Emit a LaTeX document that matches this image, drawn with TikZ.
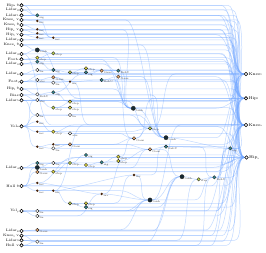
\documentclass[tikz,border=0pt]{standalone}
\usepackage{fontspec}
\newfontfamily\gk{DejaVu Serif}
\usetikzlibrary{calc}
\newcommand\lsub[1]{\raisebox{-0.6pt}{\fontsize{2.5}{3}\selectfont #1}}
\newcommand\thta{{\gk\fontsize{3}{4}\selectfont θ}}
\definecolor{tealc}{RGB}{50,140,150}
\definecolor{yelc}{RGB}{228,222,60}
\definecolor{ygc}{RGB}{190,215,80}
\definecolor{orc}{RGB}{240,170,110}
\definecolor{darkc}{RGB}{22,42,52}
\definecolor{dotc}{RGB}{70,35,10}
\definecolor{edgec}{RGB}{110,165,255}
\pgfdeclarelayer{bg}
\pgfsetlayers{bg,main}
\tikzset{
  io/.style={circle,draw=black,fill=white,line width=0.6pt,inner sep=0pt,minimum size=3.4pt},
  il/.style={font=\fontsize{3.5}{4}\selectfont,inner sep=0.5pt,text=black},
  ol/.style={font=\fontsize{4}{5}\selectfont,inner sep=0.4pt,text=black},
  hl/.style={font=\fontsize{2.6}{3}\selectfont,inner sep=0.3pt,text=black!75,label distance=0pt},
  hbase/.style={circle,draw=black!85,line width=0.4pt,inner sep=0pt,minimum size=3.4pt},
  hT/.style={hbase,fill=tealc},
  hY/.style={hbase,fill=yelc},
  hG/.style={hbase,fill=ygc},
  hO/.style={hbase,fill=orc},
  hW/.style={hbase,fill=white},
  hK/.style={hbase,fill=darkc,minimum size=4.2pt},
  hD/.style={circle,fill=dotc,draw=none,inner sep=0pt,minimum size=2.6pt},
  edge/.style={draw=edgec,line width=0.5pt,opacity=0.42,max distance=14pt},
}
\newcommand\hn[5]{\node[#1,label={[hl]-15:#5}] (#2) at (#3,#4) {};}
\newcommand\inp[4]{\node[io,label={[il]left:#4}] (#1) at (#2,#3) {};}
\begin{document}
\begin{tikzpicture}[x=1pt,y=-1pt]
\useasboundingbox (0,0) rectangle (266,253);
% inputs
\inp{i1}{21.5}{5.3}{Hip\lsub{r} \thta}
\inp{i2}{21.5}{10}{Lidar\lsub{2}}
\inp{i3}{21.5}{15.3}{Lidar\lsub{1}}
\inp{i4}{21.5}{20}{Knee\lsub{r} v}
\inp{i5}{21.5}{25}{Knee\lsub{l} \thta}
\inp{i6}{21.5}{30}{Hip\lsub{r} v}
\inp{i7}{21.5}{34.7}{Hip\lsub{l} v}
\inp{i8}{21.5}{40}{Lidar\lsub{7}}
\inp{i9}{21.5}{45}{Knee\lsub{r} \thta}
\inp{i10}{21.5}{54}{Lidar\lsub{3}}
\inp{i11}{21.5}{59.3}{Foot\lsub{r}}
\inp{i12}{21.5}{64}{Lidar\lsub{0}}
\inp{i13}{21.5}{74}{Lidar\lsub{6}}
\inp{i14}{21.5}{81.7}{Foot\lsub{l}}
\inp{i15}{21.5}{89}{Hip\lsub{l} \thta}
\inp{i16}{21.5}{95}{Bias}
\inp{i17}{21.5}{100.3}{Lidar\lsub{5}}
\inp{i18}{21.5}{126.3}{Vel\lsub{x}}
\inp{i19}{21.5}{168}{Lidar\lsub{4}}
\inp{i20}{21.5}{186}{Hull \thta}
\inp{i21}{21.5}{211}{Vel\lsub{y}}
\inp{i22}{21.5}{231}{Lidar\lsub{8}}
\inp{i23}{21.5}{235.7}{Knee\lsub{l} v}
\inp{i24}{21.5}{240.3}{Lidar\lsub{9}}
\inp{i25}{21.5}{245.3}{Hull v}
% outputs
\node[io,label={[ol]right:Knee\lsub{l}}] (o1) at (246,74) {};
\node[io,label={[ol]right:Hip\lsub{l}}] (o2) at (246,98.3) {};
\node[io,label={[ol]right:Knee\lsub{r}}] (o3) at (246,125) {};
\node[io,label={[ol]right:Hip\lsub{r}}] (o4) at (246.5,157.5) {};
% hidden
\hn{hT}{h1}{37.3}{15.3}{sig}
\hn{hD}{h2}{37.3}{21}{inv}
\hn{hD}{h3}{37.3}{29.3}{inv}
\hn{hD}{h4}{37.3}{33.3}{inv}
\hn{hD}{h5}{37.3}{37.3}{inv}
\hn{hD}{h6}{53.3}{37.7}{inv}
\hn{hK}{h7}{37.3}{50}{tanh}
\hn{hG}{h8}{53.3}{53.3}{step}
\hn{hY}{h9}{37.3}{57.7}{step}
\hn{hT}{h10}{37.3}{61.7}{sig}
\hn{hW}{h11}{37.3}{70}{lin}
\hn{hT}{h12}{53.3}{70}{sig}
\hn{hG}{h13}{70}{72.3}{step}
\hn{hY}{h14}{86}{68.3}{step}
\hn{hT}{h15}{86}{72.3}{sig}
\hn{hW}{h16}{37.3}{80}{abs}
\hn{hO}{h17}{53.3}{77.3}{Gaus}
\hn{hW}{h18}{53.3}{82.7}{lin}
\hn{hD}{h19}{70}{81.7}{inv}
\hn{hO}{h20}{101.7}{70.7}{Gaus}
\hn{hT}{h21}{118.3}{70.7}{ReLU}
\hn{hT}{h22}{101.7}{80}{ReLU}
\hn{hO}{h23}{118.3}{76.7}{Gaus}
\hn{hW}{h24}{37.3}{94.3}{ReLU}
\hn{hT}{h25}{53.3}{92.3}{sig}
\hn{hY}{h26}{70}{101.7}{step}
\hn{hY}{h27}{70}{107.7}{step}
\hn{hG}{h28}{53.3}{107.7}{step}
\hn{hW}{h29}{37.3}{100}{abs}
\hn{hW}{h30}{70}{115}{lin}
\hn{hW}{h31}{37.3}{115}{lin}
\hn{hD}{h32}{37.3}{121.7}{inv}
\hn{hD}{h33}{37.3}{131.7}{inv}
\hn{hY}{h34}{53.3}{131.7}{step}
\hn{hW}{h35}{70}{133.3}{abs}
\hn{hD}{h36}{37.3}{146.7}{inv}
\hn{hD}{h37}{53.3}{144.3}{inv}
\hn{hW}{h38}{53.3}{148.3}{lin}
\hn{hO}{h39}{70}{144.3}{Gaus}
\hn{hT}{h40}{37.3}{163}{sig}
\hn{hW}{h41}{53.3}{163}{lin}
\hn{hG}{h42}{70}{163}{step}
\hn{hY}{h43}{86}{165}{step}
\hn{hK}{h44}{37.3}{167.5}{tanh}
\hn{hO}{h45}{37.3}{172}{Gaus}
\hn{hD}{h46}{37.3}{183}{inv}
\hn{hD}{h47}{37.3}{190.7}{inv}
\hn{hD}{h48}{53.3}{190.7}{inv}
\hn{hG}{h49}{70}{203.3}{step}
\hn{hY}{h50}{86}{203.3}{step}
\hn{hT}{h51}{86}{207.2}{sig}
\hn{hW}{h52}{37.3}{211}{lin}
\hn{hW}{h53}{37.3}{216}{lin}
\hn{hO}{h54}{37.3}{230}{Gaus}
\hn{hW}{h55}{37.3}{241.7}{lin}
\hn{hK}{h56}{133.3}{108.3}{tanh}
\hn{hG}{h57}{150}{128.3}{step}
\hn{hO}{h58}{134}{138.3}{Gaus}
\hn{hK}{h59}{166}{137.7}{tanh}
\hn{hT}{h60}{166}{146.7}{ReLU}
\hn{hO}{h61}{150}{149.3}{Gaus}
\hn{hY}{h62}{118.3}{156.7}{step}
\hn{hY}{h63}{118.3}{161}{step}
\hn{hT}{h64}{101.7}{162.3}{sig}
\hn{hD}{h65}{134}{175}{inv}
\hn{hD}{h66}{101.7}{194}{inv}
\hn{hK}{h67}{150}{200}{tanh}
\hn{hT}{h68}{230.3}{148.3}{sig}
\hn{hK}{h69}{182}{176.7}{tanh}
\hn{hG}{h70}{198.7}{179.3}{step}
\hn{hT}{h71}{214.3}{177.3}{ReLU}
\hn{hT}{h72}{86}{155}{sig}
\hn{hY}{h73}{53.3}{171.7}{step}
\begin{pgfonlayer}{bg}
\fill[white] (0,0) rectangle (266,253);
% short direct edges
\foreach \a/\b in {i1/h1,i2/h1,i3/h1,i4/h2,i5/h3,i6/h4,i7/h5,i8/h6,i9/h7,i10/h7,i11/h9,i12/h10,i13/h11,i14/h16,i14/h18,i15/h24,i16/h29,i17/h29,i18/h31,i18/h32,i18/h33,i18/h36,i18/h29,i19/h40,i19/h44,i20/h45,i20/h46,i20/h47,i20/h44,i21/h52,i21/h53,i22/h54,i23/h55,i24/h55,i25/h55,i17/h31,
h2/h6,h3/h6,h7/h8,h9/h8,h10/h12,h11/h12,h12/h13,h13/h14,h13/h15,h16/h17,h17/h19,h18/h19,h24/h25,h29/h28,h25/h26,h28/h27,h31/h30,h32/h34,h33/h34,h34/h35,h36/h37,h37/h39,h38/h39,h40/h41,h41/h42,h42/h43,h44/h41,h47/h48,h48/h49,h49/h50,h49/h51,h45/h73,h73/h42,h14/h20,h15/h20,h20/h21,h19/h22,h22/h23,h42/h72,h43/h64,h64/h62,h64/h63,h62/h58,h63/h61,h58/h57,h57/h59,h61/h60,h56/h59,h65/h67,h66/h67,h67/h69,h69/h70,h70/h71,h59/h68,h60/h68,h71/h68,h46/h66,h48/h65,h36/h38}
  {\draw[edge] (\a) to[out=0,in=180] (\b);}
% long edges bending near the target
\foreach \a/\b/\d in {i1/o1/25,i1/o3/18,i2/o2/22,i2/o4/14,i3/o1/28,i3/o3/12,i4/o2/20,i4/o4/10,i5/o1/24,i5/o3/16,i6/o2/26,i6/o4/12,i7/o1/30,i7/o3/20,i8/o2/18,i9/o1/22,i9/o4/15,i10/o2/26,i11/o3/24,i12/o4/20,i13/o1/10,i14/o2/12,i15/o3/14,i16/o4/16,i17/o1/18,i17/o3/12,i18/o2/16,i18/o4/30,i19/o3/20,i20/o4/22,i20/o2/35,i21/o1/40,i21/o3/30,i22/o2/28,i22/o4/18,i23/o3/24,i24/o4/12,i25/o1/35,i25/o4/20,
i15/h56/20,i17/h57/25,i13/h20/12,i11/h21/18,i16/h59/15,i19/h61/20,i21/h67/25,i22/h69/30,i24/h70/22,i25/h71/18,i23/h68/20,i12/h56/30,i6/h56/10,i9/h59/25,i4/h59/40,
h1/o1/25,h5/o2/20,h6/o1/15,h7/o3/20,h8/o4/25,h21/o2/18,h23/o3/30,h22/o4/15,h26/o1/20,h27/o3/18,h30/o2/15,h35/o4/20,h39/o3/22,h43/o4/28,h50/o3/25,h51/o4/18,h53/o4/30,h54/o3/40,h55/o4/25,h56/o2/30,h68/o3/8,h68/o4/8,h71/o4/16,h59/o1/30,h60/o4/22,h45/o4/26,h52/o2/30,h10/o2/22,h11/o3/18,h16/o4/24,h3/o3/26,h4/o4/16,h2/o1/14,h9/o2/20,h72/o4/20,h73/o3/30,h44/o4/35,h40/o3/18,
h9/h56/20,h12/h56/25,h26/h56/15,h30/h57/20,h35/h58/15,h38/h61/25,h50/h65/20,h53/h66/25,h54/h67/30,h55/h69/35,h52/h67/20,h51/h69/25,h60/h71/15,h61/h69/20,h67/h71/20,h65/h60/15,h20/h56/15,h22/h58/20,h23/h59/25,h39/h58/20,h37/h61/25,h47/h67/30,h33/h57/20,h31/h59/30}
  {\draw[edge] (\a) -- ($(\a -| \b)+(-\d,0)$) to[out=0,in=180] (\b);}
% long edges bending near the source
\foreach \a/\b/\d in {h7/o1/25,i10/o3/30,i14/o1/20,h17/o2/25,h19/o3/20,h25/o1/30,h28/o2/25,h34/o3/20,h41/o4/25,h46/o4/35,h48/o3/30,h66/o4/25,h67/o3/30,h58/o2/20,h57/o1/25}
  {\draw[edge] (\a) to[out=0,in=180] ($(\b -| \a)+(\d,0)$) -- (\b);}
\end{pgfonlayer}
\end{tikzpicture}
\end{document}
